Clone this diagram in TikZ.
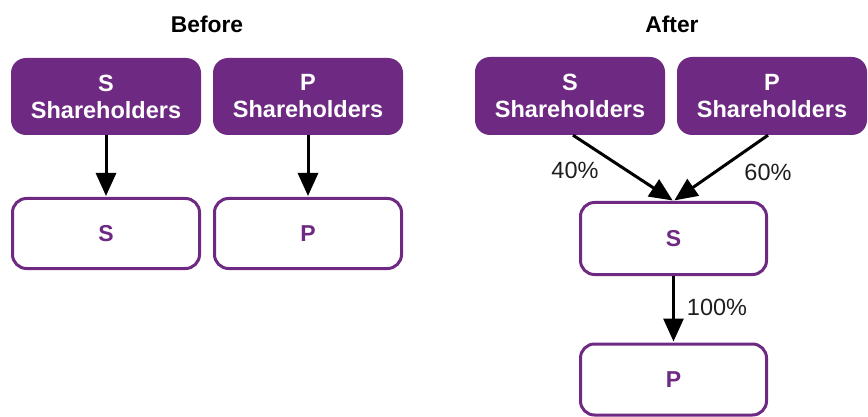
\documentclass[tikz,border=0pt]{standalone}
\usepackage{fontspec}
\setmainfont{Liberation Sans}
\usetikzlibrary{arrows.meta}
\definecolor{kpurple}{RGB}{110,41,131}
\definecolor{ltext}{RGB}{30,30,30}
\begin{document}
\begin{tikzpicture}[x=1pt,y=-1pt,
  shbox/.style={fill=kpurple, draw=none, rounded corners=15pt, text=white,
    font=\fontsize{23.5}{27}\selectfont\bfseries, align=center,
    minimum width=190pt, minimum height=77pt, inner sep=0pt},
  entbox/.style={draw=kpurple, line width=3pt, fill=white, rounded corners=14pt, text=kpurple,
    font=\fontsize{23}{27}\selectfont\bfseries, align=center,
    minimum width=187pt, minimum height=70pt, inner sep=0pt},
  ttl/.style={font=\fontsize{22.8}{27}\selectfont\bfseries, text=black, inner sep=0pt},
  pct/.style={font=\fontsize{23.5}{25}\selectfont, text=ltext, inner sep=0pt},
  arr/.style={line width=3pt, -{Triangle[width=20pt,length=23pt]}, shorten >=1pt}
]
\useasboundingbox (0,0) rectangle (868,417);
% Before
\node[ttl] (tb) at (207,24) {Before};
\node[shbox] (bsh) at (106,96.5) {S\\Shareholders};
\node[shbox] (bph) at (308,96.5) {P\\Shareholders};
\node[entbox] (bs) at (106,233.5) {S};
\node[entbox] (bp) at (308,233.5) {P};
\draw[arr] (bsh.south) -- (bs.north);
\draw[arr] (bph.south) -- (bp.north);
% After
\node[ttl] (ta) at (672,24) {After};
\node[shbox, minimum height=78pt] (ash) at (570,96) {S\\Shareholders};
\node[shbox, minimum height=78pt] (aph) at (772,96) {P\\Shareholders};
\node[entbox, minimum width=186pt, minimum height=72pt] (as) at (673.5,238.5) {S};
\node[entbox, minimum width=186pt, minimum height=71pt] (ap) at (673.5,379.5) {P};
\draw[arr] (ash.south) ++(3,0) coordinate (a1) (a1) -- (as.north);
\draw[arr] (aph.south) ++(-4,0) coordinate (a2) (a2) -- (as.north);
\draw[arr] (as.south) -- (ap.north);
\node[pct] (p40) at (575,170) {40\%};
\node[pct] (p60) at (768,172) {60\%};
\node[pct] (p100) at (717,307) {100\%};
\end{tikzpicture}
\end{document}
